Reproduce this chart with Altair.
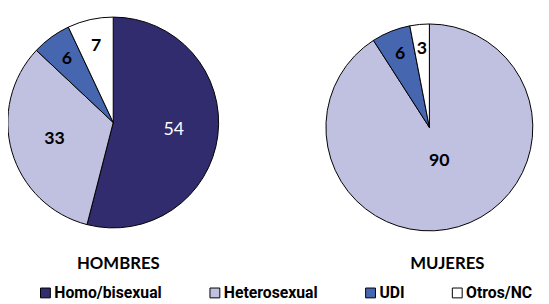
import altair as alt
import pandas as pd

categorias = ["Homo/bisexual", "Heterosexual", "UDI", "Otros/NC"]
hombres = [54, 33, 6, 7]
mujeres = [0, 90, 6, 3]
paneles = ["HOMBRES", "MUJERES"]
colores = ["#302C6E", "#C0C0E0", "#4766B0", "#FFFFFF"]

rows = []
for i, c in enumerate(categorias):
    rows.append({"grupo": "HOMBRES", "cat": c, "orden": i, "v": hombres[i]})
    rows.append({"grupo": "MUJERES", "cat": c, "orden": i, "v": mujeres[i]})
df = pd.DataFrame(rows)

theta_scale = alt.Scale(domain=[0, 1], range=[0, 6.283185307179586])

color = alt.Color(
    "cat:N",
    scale=alt.Scale(domain=categorias, range=colores),
    legend=alt.Legend(
        title=None, orient="none", legendX=30, legendY=279, direction="horizontal",
        symbolType="square", symbolSize=100, symbolStrokeColor="black",
        symbolStrokeWidth=1, labelFont="Roboto", labelFontWeight="bold",
        labelFontSize=16, labelColor="black", columnPadding=45, labelOffset=1,
        padding=0, labelLimit=0,
    ),
)


def pie(grupo, cx, cy, r):
    base = alt.Chart(df).transform_filter(alt.datum.grupo == grupo)
    arc = base.transform_filter(alt.datum.v > 0).mark_arc(
        radius=r, stroke="black", strokeWidth=1
    ).encode(
        theta=alt.Theta("v:Q", stack="normalize", scale=theta_scale),
        order=alt.Order("orden:Q"),
        color=color,
        x=alt.value(cx),
        y=alt.value(cy),
    )
    tb = base.transform_window(
        cum="sum(v)", sort=[alt.SortField("orden", order="ascending")], frame=[None, 0]
    ).transform_joinaggregate(total="sum(v)").transform_calculate(
        mid="(datum.cum - datum.v / 2) / datum.total",
        rad="datum.v >= 80 ? 36 : datum.v >= 20 ? 62 : 80",
    ).transform_filter(alt.datum.v > 0)
    enc = dict(
        theta=alt.Theta("mid:Q", stack=None, scale=theta_scale),
        radius=alt.Radius("rad:Q", scale=None),
        text="v:Q",
        x=alt.value(cx),
        y=alt.value(cy),
    )
    t1 = tb.transform_filter(alt.datum.cat == "Homo/bisexual").mark_text(
        font="Lato", fontSize=18, color="white", baseline="middle"
    ).encode(**enc)
    t2 = tb.transform_filter(alt.datum.cat != "Homo/bisexual").mark_text(
        font="Lato", fontSize=18, fontWeight="bold", color="black", baseline="middle"
    ).encode(**enc)
    return [arc, t1, t2]


titulos = pd.DataFrame({"t": paneles, "i": [0, 1]})
tit1 = alt.Chart(titulos).transform_filter(alt.datum.i == 0).mark_text(
    font="Lato", fontSize=17, fontWeight="bold", color="black"
).encode(text="t:N", x=alt.value(112), y=alt.value(258))
tit2 = alt.Chart(titulos).transform_filter(alt.datum.i == 1).mark_text(
    font="Lato", fontSize=17, fontWeight="bold", color="black"
).encode(text="t:N", x=alt.value(446), y=alt.value(258))

layers = pie("HOMBRES", 106.8, 114, 107) + pie("MUJERES", 427.7, 119, 105) + [tit1, tit2]

chart = alt.layer(*layers).properties(
    width=541, height=296, padding=0, autosize="none"
).configure_view(strokeWidth=0).configure_legend(
    labelFont="Roboto", labelFontWeight="bold", labelFontSize=16
)

chart.save("out.html", embed_options={"renderer": "svg", "actions": False})
